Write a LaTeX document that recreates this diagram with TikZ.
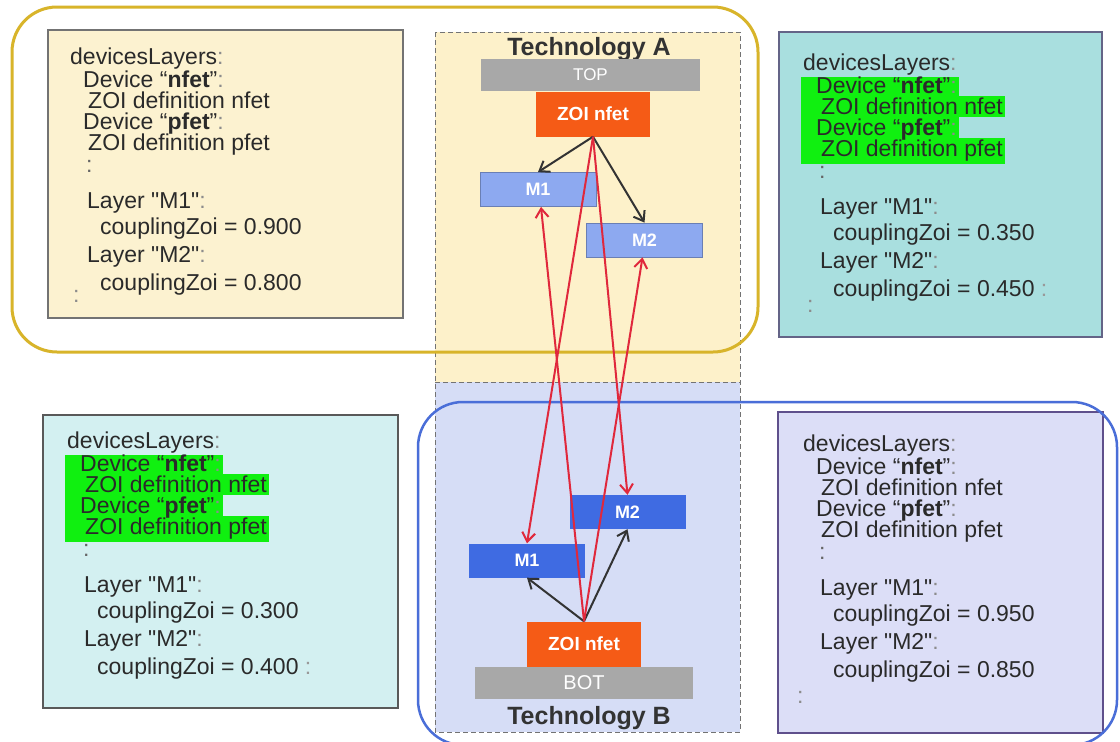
\documentclass[tikz,border=0pt]{standalone}
\usepackage{fontspec}
\setmainfont{Liberation Sans}[Ligatures=TeXOff]
\usetikzlibrary{arrows.meta}
\definecolor{frameY}{HTML}{D8B42A}
\definecolor{frameB}{HTML}{4A6ED8}
\definecolor{techA}{HTML}{FDF1CA}
\definecolor{techB}{HTML}{D6DDF6}
\definecolor{boxTL}{HTML}{FCF2D0}
\definecolor{boxTR}{HTML}{A9DFDF}
\definecolor{boxBL}{HTML}{D3F0F1}
\definecolor{boxBR}{HTML}{DCDEF7}
\definecolor{hlg}{HTML}{10F010}
\definecolor{zoic}{HTML}{F55B16}
\definecolor{mlight}{HTML}{8DA9F0}
\definecolor{mdark}{HTML}{3F6BE2}
\definecolor{gbar}{HTML}{A8A8A8}
\definecolor{txtc}{HTML}{2A2A2A}
\definecolor{redarr}{HTML}{E0283C}
\newcommand\lc{\textcolor{black!45}{:}}
% #1 prefix, #2 x0, #3 baseline0, #4 highlight style, #5 M1 value, #6 M2 value
\newcommand\infolines[6]{%
 \node[txtline,#4,text depth=8pt] (#1z2) at (#2-2,#3+82) {\hspace*{20pt}ZOI definition pfet\hspace*{2pt}};
 \node[txtline,#4] (#1d2) at (#2-2,#3+61) {\hspace*{15pt}Device “\textbf{pfet}”\lc\hspace*{2pt}};
 \node[txtline,#4] (#1z1) at (#2-2,#3+40) {\hspace*{20pt}ZOI definition nfet\hspace*{2pt}};
 \node[txtline,#4,text height=16pt] (#1d1) at (#2-2,#3+19) {\hspace*{15pt}Device “\textbf{nfet}”\lc\hspace*{2pt}};
 \node[txtline,text depth=0pt] (#1h) at (#2,#3-4) {devicesLayers\lc};
 \node[txtline,text=black!60] (#1c) at (#2+16,#3+104) {:};
 \node[txtline] (#1l1) at (#2+17,#3+140) {Layer "M1"\lc};
 \node[txtline] (#1v1) at (#2+30,#3+166) {couplingZoi = #5};
 \node[txtline] (#1l2) at (#2+17,#3+194) {Layer "M2"\lc};
 \node[txtline] (#1v2) at (#2+30,#3+222) {couplingZoi = #6};
}
\tikzset{
 txtline/.style={anchor=base west, inner sep=0pt, text height=18pt, text depth=3pt,
   font=\fontsize{23}{25}\selectfont, text=txtc},
 hlon/.style={fill=hlg},
 hloff/.style={},
 endcolon/.style={anchor=base west, inner sep=0pt, font=\fontsize{23}{25}\selectfont, text=black!45},
 gbarbox/.style={fill=gbar, text=white, inner sep=0pt, minimum width=219pt, minimum height=32pt},
 zoibox/.style={fill=zoic, text=white, inner sep=0pt, minimum width=114pt, minimum height=45pt,
   font=\bfseries\fontsize{19}{20}\selectfont},
 mbox/.style={text=white, inner sep=0pt, minimum width=116pt, minimum height=34pt,
   font=\bfseries\fontsize{18}{19}\selectfont},
 mlt/.style={mbox, fill=mlight, draw=mlight!75!black, line width=0.8pt},
 mdk/.style={mbox, fill=mdark},
 techlbl/.style={anchor=base, inner sep=0pt, text=black!80, font=\bfseries\fontsize{25}{26}\selectfont},
 blkarr/.style={-{Straight Barb[length=9pt,width=13pt]}, line width=2pt, draw=black!80},
 redline/.style={-{Straight Barb[length=9pt,width=13pt]}, line width=2pt, draw=redarr},
}
\begin{document}
\begin{tikzpicture}[x=1pt,y=-1pt]
\useasboundingbox (0,0) rectangle (1120,742);
\clip (0,0) rectangle (1120,742);
\fill[white] (0,0) rectangle (1120,742);
% technology panels
\fill[techA] (435,32) rectangle (740,382);
\fill[techB] (435,382) rectangle (740,732);
\draw[black!55, line width=1pt, dash pattern=on 5pt off 3pt] (435,32) rectangle (740,732);
\draw[black!55, line width=1pt, dash pattern=on 5pt off 3pt] (435,382) -- (740,382);
% info boxes
\draw[fill=boxTL, draw=black!55, line width=1.5pt] (48,30) rectangle (403,318);
\draw[fill=boxTR, draw={rgb,255:red,100;green,100;blue,135}, line width=1.5pt] (779,32) rectangle (1102,337);
\draw[fill=boxBL, draw=black!65, line width=1.5pt] (43,415) rectangle (398,708);
\draw[fill=boxBR, draw={rgb,255:red,95;green,80;blue,140}, line width=1.5pt] (778,412) rectangle (1103,733);
% frames
\draw[frameY, line width=3pt, rounded corners=45pt] (12,7) rectangle (758,352);
\draw[frameB, line width=2.5pt, rounded corners=45pt] (418,402) rectangle (1117,745);
% texts
\infolines{tl}{70}{68}{hloff}{0.900}{0.800}
\infolines{tr}{803}{74}{hlon}{0.350}{0.450 \textcolor{black!40}{:}}
\infolines{bl}{67}{452}{hlon}{0.300}{0.400 \textcolor{black!40}{:}}
\infolines{br}{803}{455}{hloff}{0.950}{0.850}
\node[endcolon] (tlend) at (73,302) {:};
\node[endcolon] (trend) at (807,312) {:};
\node[endcolon] (brend) at (797,703) {:};
% technology A
\node[techlbl] (techA) at (589,55) {Technology A};
\node[gbarbox, font=\fontsize{17}{18}\selectfont] (topbar) at (590.5,75) {TOP};
\node[zoibox] (zoiA) at (593,114) {ZOI nfet};
\node[mlt] (m1A) at (538,189.5) {M1};
\node[mlt] (m2A) at (644.5,240) {M2};
% technology B
\node[techlbl] (techB) at (589,724) {Technology B};
\node[gbarbox, minimum width=218pt, font=\fontsize{20}{21}\selectfont] (botbar) at (584,682.5) {BOT};
\node[zoibox] (zoiB) at (584,644) {ZOI nfet};
\node[mdk] (m1B) at (527,560.5) {M1};
\node[mdk] (m2B) at (627.5,512) {M2};
% arrows
\draw[blkarr] (zoiA.south) -- (m1A.north);
\draw[blkarr] (zoiA.south) -- (m2A.north);
\draw[blkarr] (zoiB.north) -- (m1B.south);
\draw[blkarr] (zoiB.north) -- (m2B.south);
\draw[redline] (zoiA.south) -- (m1B.north);
\draw[redline] (zoiA.south) -- (m2B.north);
\draw[redline] (zoiB.north) -- ([xshift=3pt]m1A.south);
\draw[redline] (zoiB.north) -- ([xshift=-2pt]m2A.south);
\end{tikzpicture}
\end{document}
